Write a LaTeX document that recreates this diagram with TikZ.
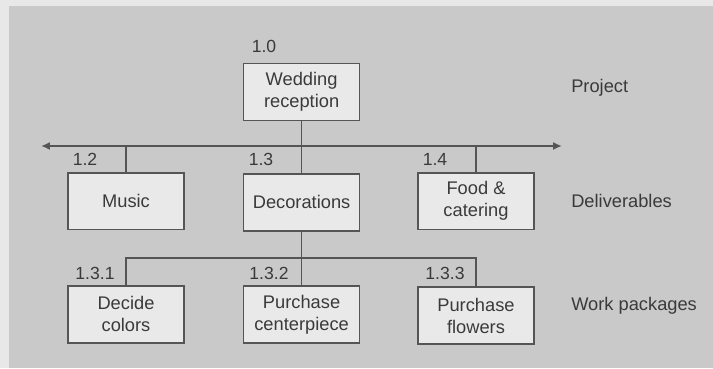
\documentclass[tikz,border=0pt]{standalone}
\usepackage{fontspec}
\setmainfont{Liberation Sans}
\usepackage{tikz}
\usetikzlibrary{arrows.meta,positioning,calc}
\definecolor{pagebg}{HTML}{E8E8E8}
\definecolor{panel}{HTML}{C9C9C9}
\definecolor{boxfill}{HTML}{E9E9E9}
\definecolor{ink}{HTML}{3A3A3A}
\definecolor{wire}{HTML}{555555}
\tikzset{
  wbsbox/.style={draw=wire,fill=boxfill,line width=1.1pt,
                 minimum width=2.9cm,minimum height=1.42cm,
                 align=center,text=ink,inner sep=2pt,
                 font=\fontsize{13}{15.6}\selectfont},
  code/.style={text=ink,inner sep=1pt,font=\fontsize{12.5}{15}\selectfont},
  level/.style={text=ink,anchor=west,inner sep=0pt,font=\fontsize{13}{15.6}\selectfont},
  link/.style={draw=wire,line width=1.1pt},
  busarr/.style={{Latex[length=2.2mm,width=2mm]}-{Latex[length=2.2mm,width=2mm]},draw=wire,line width=1.3pt}
}

\begin{document}
\begin{tikzpicture}
  % page and grey panel
  \fill[pagebg] (0,0) rectangle (17.825,9.2);
  \fill[panel] (0.225,0) rectangle (17.825,9.05);
  \useasboundingbox (0,0) rectangle (17.825,9.2);

  % project
  \node[wbsbox] (wed) at (7.54,6.9) {Wedding\\reception};
  \node[code] (n10) at (6.6,8.05) {1.0};

  % deliverables
  \node[wbsbox] (music) at (3.15,4.17) {Music};
  \node[wbsbox] (deco) at (7.54,4.14) {Decorations};
  \node[wbsbox] (food) at (11.9,4.17) {Food \&\\catering};
  \node[code] (n12) at (2.125,5.225) {1.2};
  \node[code] (n13) at (6.525,5.225) {1.3};
  \node[code] (n14) at (10.875,5.225) {1.4};

  % work packages
  \node[wbsbox] (decide) at (3.15,1.34) {Decide\\colors};
  \node[wbsbox] (cent) at (7.54,1.34) {Purchase\\centerpiece};
  \node[wbsbox] (flow) at (11.9,1.31) {Purchase\\flowers};
  \node[code] (n131) at (2.375,2.375) {1.3.1};
  \node[code] (n132) at (6.725,2.375) {1.3.2};
  \node[code] (n133) at (11.125,2.375) {1.3.3};

  % level names
  \node[level] (lproj) at (14.275,7.0) {Project};
  \node[level] (ldel) at (14.275,4.175) {Deliverables};
  \node[level] (lwp) at (14.275,1.55) {Work packages};

  % connectors
  \coordinate (busL) at (1.025,5.55);
  \coordinate (busR) at (14.05,5.55);
  \coordinate (lowbus) at (3.15,2.75);
  \draw[busarr] (busL) -- (busR);
  \draw[link] (wed.south) -- (deco.north);
  \draw[link] (music.north) -- (music.north |- busL);
  \draw[link] (food.north) -- (food.north |- busL);
  \draw[link] (deco.south) -- (cent.north);
  \draw[link] (decide.north) -- (lowbus) -- (flow.north |- lowbus) -- (flow.north);
\end{tikzpicture}
\end{document}
